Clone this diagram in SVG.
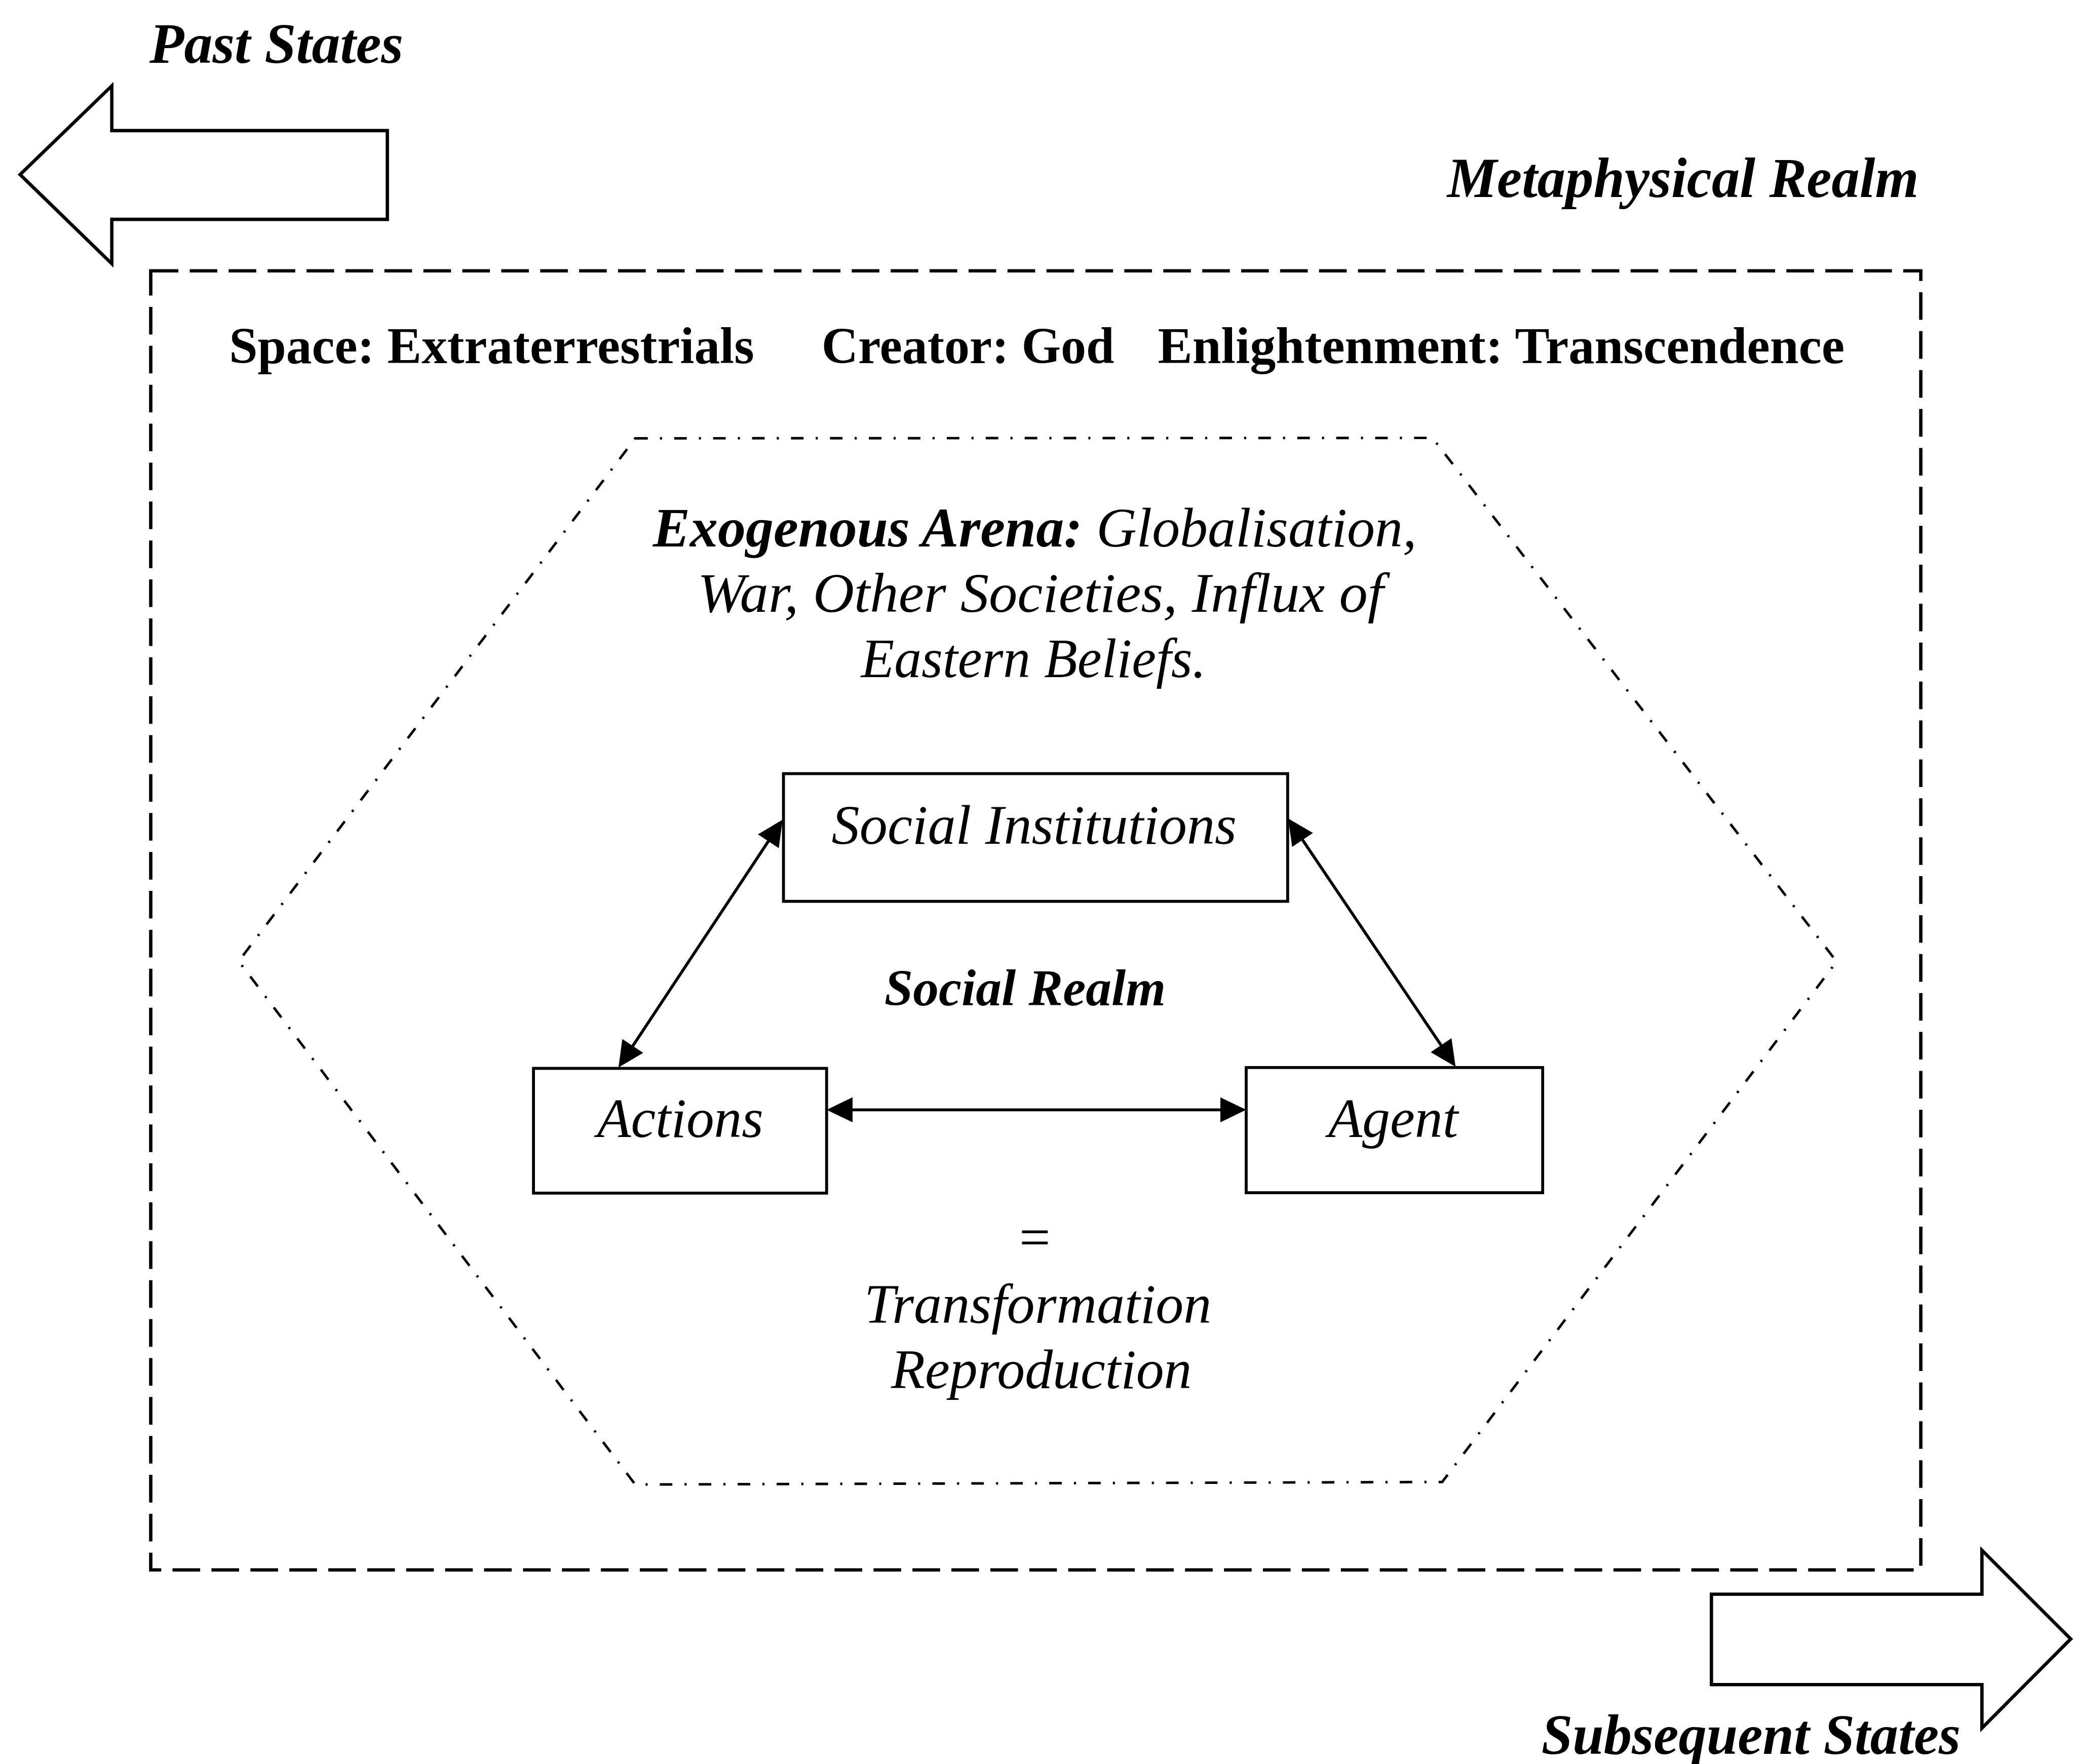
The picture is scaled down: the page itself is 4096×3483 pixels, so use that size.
<svg xmlns="http://www.w3.org/2000/svg" width="4096" height="3483" viewBox="0 0 4096 3483">
  <defs>
    <style>
      .serif { font-family: "Liberation Serif", "Times New Roman", serif; fill: #000; }
      .bold { font-weight: bold; }
      .it { font-style: italic; }
      .head { font-size: 135px; font-weight: bold; font-style: italic; }
      .row { font-size: 122px; font-weight: bold; }
      .lab { font-size: 132px; font-style: italic; }
      .box { fill: #fff; stroke: #000; stroke-width: 7; }
      .bigarrow { fill: #fff; stroke: #000; stroke-width: 8; stroke-linejoin: miter; }
      .realm { fill: none; stroke: #000; stroke-width: 8; stroke-dasharray: 66 27; }
      .arena { fill: none; stroke: #000; stroke-width: 6; stroke-dasharray: 30 29 5 29; }
      .link { fill: none; stroke: #000; stroke-width: 7; }
    </style>
    <marker id="head" markerUnits="userSpaceOnUse" markerWidth="62" markerHeight="62" refX="52" refY="31" orient="auto-start-reverse">
      <path d="M0,1 L62,31 L0,61 Z" fill="#000"/>
    </marker>
  </defs>
  <rect width="4096" height="3483" fill="#fff"/>

  <g transform="scale(0.8266)">
    <!-- time direction: backwards -->
    <g id="past-states">
      <polygon class="bigarrow" points="48,417 267,205 267,312 925,312 925,524 267,524 267,630"/>
      <text class="serif head" x="357" y="150" textLength="606" lengthAdjust="spacingAndGlyphs">Past States</text>
    </g>

    <!-- outer metaphysical realm -->
    <g id="metaphysical-realm">
      <text class="serif head" x="3456" y="470" textLength="1126" lengthAdjust="spacingAndGlyphs">Metaphysical Realm</text>
      <rect class="realm" x="360" y="647" width="4227" height="3103"/>
      <text class="serif row" x="547" y="868" textLength="1254" lengthAdjust="spacingAndGlyphs">Space: Extraterrestrials</text>
      <text class="serif row" x="1962" y="868" textLength="699" lengthAdjust="spacingAndGlyphs">Creator: God</text>
      <text class="serif row" x="2765" y="868" textLength="1640" lengthAdjust="spacingAndGlyphs">Enlightenment: Transcendence</text>
    </g>

    <!-- exogenous arena hexagon -->
    <g id="exogenous-arena">
      <polygon class="arena" points="1517,1047 3421,1046 4386,2297 3444,3540 1517,3546 570,2296"/>
      <text class="serif lab" x="1559" y="1305" textLength="1824" lengthAdjust="spacingAndGlyphs"><tspan class="bold">Exogenous Arena:</tspan> Globalisation,</text>
      <text class="serif lab" x="1666" y="1462" textLength="1638" lengthAdjust="spacingAndGlyphs">War, Other Societies, Influx of</text>
      <text class="serif lab" x="2056" y="1618" textLength="824" lengthAdjust="spacingAndGlyphs">Eastern Beliefs.</text>
    </g>

    <g id="social-institutions">
      <rect class="box" x="1871" y="1848" width="1204" height="305"/>
      <text class="serif lab" x="1986" y="2016" textLength="967" lengthAdjust="spacingAndGlyphs">Social Institutions</text>
    </g>

    <g id="social-realm">
      <text class="serif bold it" font-size="124" x="2112" y="2401" textLength="672" lengthAdjust="spacingAndGlyphs">Social Realm</text>
    </g>

    <g id="actions">
      <rect class="box" x="1274" y="2552" width="700" height="298"/>
      <text class="serif lab" x="1426" y="2716" textLength="397" lengthAdjust="spacingAndGlyphs">Actions</text>
    </g>

    <g id="agent">
      <rect class="box" x="2976" y="2550" width="708" height="299"/>
      <text class="serif lab" x="3172" y="2716" textLength="310" lengthAdjust="spacingAndGlyphs">Agent</text>
    </g>

    <g id="outcome">
      <text class="serif lab" x="2470" y="3000" text-anchor="middle">=</text>
      <text class="serif lab" x="2064" y="3160" textLength="829" lengthAdjust="spacingAndGlyphs">Transformation</text>
      <text class="serif lab" x="2128" y="3316" textLength="718" lengthAdjust="spacingAndGlyphs">Reproduction</text>
    </g>

    <!-- time direction: forwards -->
    <g id="subsequent-states">
      <polygon class="bigarrow" points="4945,3915 4733,3703 4733,3808 4087,3808 4087,4024 4733,4024 4733,4128"/>
      <text class="serif head" x="3681" y="4190" textLength="1001" lengthAdjust="spacingAndGlyphs">Subsequent States</text>
    </g>

    <!-- two-way links inside the social realm -->
    <g id="connectors">
      <line class="link" x1="1482.5" y1="2541.7" x2="1863.5" y2="1966.3" marker-start="url(#head)" marker-end="url(#head)"/>
      <line class="link" x1="3081.6" y1="1963.3" x2="3470.4" y2="2539.7" marker-start="url(#head)" marker-end="url(#head)"/>
      <line class="link" x1="1984" y1="2651" x2="2966" y2="2651" marker-start="url(#head)" marker-end="url(#head)"/>
    </g>
  </g>
</svg>
